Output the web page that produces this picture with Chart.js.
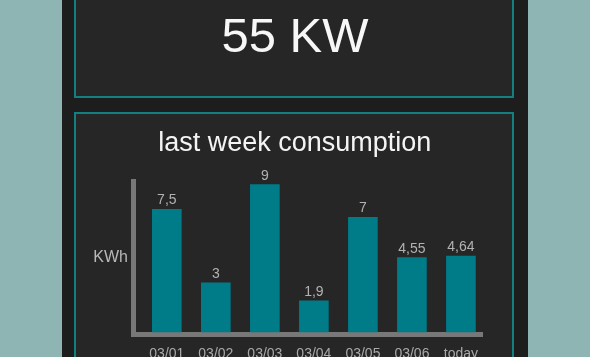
<!DOCTYPE html>
<html>
<head>
<meta charset="utf-8">
<script src="https://cdn.jsdelivr.net/npm/chart.js@4"></script>
<style>
  html, body { margin: 0; padding: 0; }
  body {
    width: 590px; height: 357px; overflow: hidden; position: relative;
    background: #8fb4b4;
    font-family: "Liberation Sans", Arial, Helvetica, sans-serif;
  }
  .panel { position: absolute; left: 62px; top: 0; width: 466px; height: 357px; background: #1d1d1d; }
  .box { position: absolute; left: 74px; width: 440px; box-sizing: border-box;
         border: 2px solid #12807f; background: #262626; }
  #power { top: -20px; height: 118px; }
  #week { top: 112px; height: 300px; }
  #now { position: absolute; left: 0; width: 590px; top: 11px; text-align: center;
         font-size: 49px; line-height: 49px; color: #f7f7f7; }
  #chartWrap { position: absolute; left: 76px; top: 114px; width: 436px; height: 260px; }
</style>
</head>
<body>
<div class="panel"></div>
<div class="box" id="power"></div>
<div class="box" id="week"></div>
<div id="now">55 KW</div>
<div id="chartWrap"><canvas id="weekChart" width="436" height="260"></canvas></div>

<script>
// last week consumption, KWh per day
const days = ['03/01', '03/02', '03/03', '03/04', '03/05', '03/06', 'today'];
const kwh = [7.5, 3, 9, 1.9, 7, 4.55, 4.64];
const unitLabel = 'KWh';
const chartTitle = 'last week consumption';

Chart.defaults.font.family = '"Liberation Sans", Arial, Helvetica, sans-serif';

// numbers above the bars, with a decimal comma
const valueLabels = {
    id: 'valueLabels',
    afterDatasetsDraw(chart) {
        const ctx = chart.ctx;
        const meta = chart.getDatasetMeta(0);
        ctx.save();
        ctx.font = '14px "Liberation Sans", Arial, sans-serif';
        ctx.fillStyle = '#b2b2b2';
        ctx.textAlign = 'center';
        ctx.textBaseline = 'alphabetic';
        meta.data.forEach(function(bar, i) {
            ctx.fillText(String(kwh[i]).replace('.', ','), bar.x, bar.y - 5);
        });
        ctx.restore();
    }
};

// "KWh" next to the y axis, horizontal
const unitText = {
    id: 'unitText',
    afterDraw(chart) {
        const ctx = chart.ctx;
        const area = chart.chartArea;
        ctx.save();
        ctx.font = '16px "Liberation Sans", Arial, sans-serif';
        ctx.fillStyle = '#b8b8b8';
        ctx.textAlign = 'right';
        ctx.textBaseline = 'middle';
        ctx.fillText(unitLabel, area.left - 5, (area.top + area.bottom) / 2);
        ctx.restore();
    }
};

const ctx = document.getElementById('weekChart').getContext('2d');
new Chart(ctx, {
    type: 'bar',
    data: {
        datasets: [{
            data: days.map(function(d, i) { return { x: i, y: kwh[i] }; }),
            backgroundColor: '#007b88',
            borderWidth: 0,
            barThickness: 29
        }]
    },
    options: {
        responsive: false,
        animation: false,
        layout: { padding: { left: 31, right: 29.5, top: 0, bottom: 0 } },
        plugins: {
            legend: { display: false },
            tooltip: { enabled: false },
            title: {
                display: true,
                text: chartTitle,
                color: '#f4f4f4',
                font: { size: 27, weight: 'normal' },
                padding: { top: 13, bottom: 22 }
            }
        },
        scales: {
            x: {
                type: 'linear',
                offset: false,
                min: -0.69,
                max: 6.44,
                grid: { display: false, drawTicks: false },
                border: { display: true, color: '#787878', width: 5 },
                ticks: {
                    stepSize: 1,
                    includeBounds: false,
                    autoSkip: false,
                    maxRotation: 0,
                    padding: 11,
                    color: '#a9a9a9',
                    font: { size: 14 },
                    callback: function(v) { return days[v]; }
                },
                afterFit: function(scale) { scale.height = 39.5; }
            },
            y: {
                min: -0.15,
                max: 9.2,
                grid: { display: false, drawTicks: false },
                border: { display: true, color: '#787878', width: 5 },
                ticks: { display: false },
                afterFit: function(scale) { scale.width = 26; }
            }
        }
    },
    plugins: [valueLabels, unitText]
});
</script>
</body>
</html>
